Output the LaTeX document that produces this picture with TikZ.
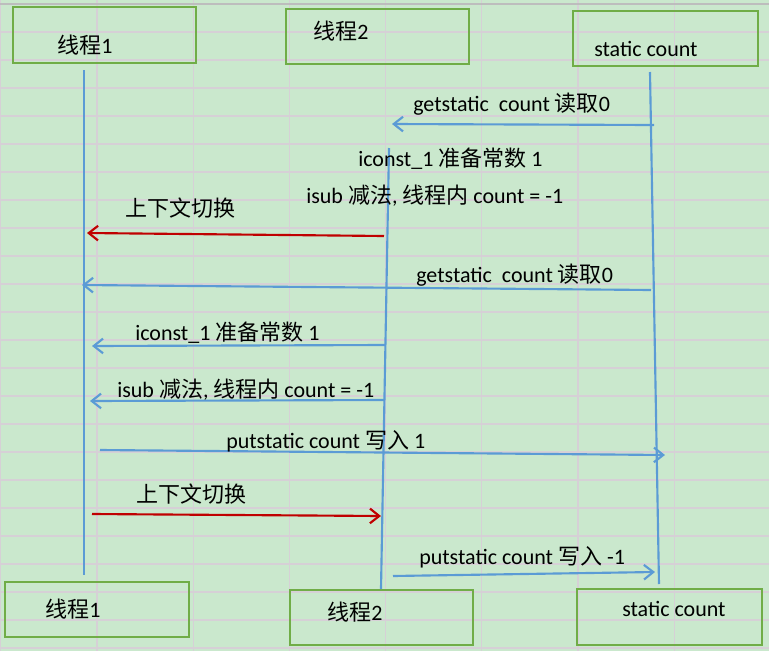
\documentclass[tikz,border=0pt]{standalone}
\usepackage{fontspec}
\setmainfont{Carlito}
\newfontfamily\cjk{Noto Sans CJK SC}
\usetikzlibrary{arrows.meta,fit}
\definecolor{sheet}{HTML}{CAE8CD}
\definecolor{cellline}{HTML}{D6D0D6}
\definecolor{headline}{HTML}{BDBDBD}
\definecolor{boxgreen}{HTML}{70AD47}
\definecolor{lineblue}{HTML}{5B9BD5}
\definecolor{switchred}{HTML}{C00000}
\newcommand{\zh}[1]{{\cjk #1}}

\begin{document}
\begin{tikzpicture}[x=0.75pt,y=-0.75pt,font=\fontsize{16.5}{19}\selectfont,
		box/.style={draw=boxgreen,line width=2.2pt,inner sep=0pt},
		txt/.style={anchor=base west,inner sep=0pt},
		life/.style={draw=lineblue,line width=1.6pt},
		msg/.style={draw=lineblue,line width=1.6pt,-{Straight Barb[length=7pt,width=11pt]}},
		ctxswitch/.style={draw=switchred,line width=1.6pt,-{Straight Barb[length=7pt,width=11pt]}}]
		% sheet background
		\fill[sheet] (0,0) rectangle (769,651);
		\useasboundingbox (0,0) rectangle (769,651);
		\foreach \k in {0,...,7}
			\draw[cellline,line width=0.8pt] ({96.2*\k+0.8},0) -- ({96.2*\k+0.8},651);
		\foreach \k in {1,...,23}
			\draw[cellline,line width=0.8pt] (0,{4+28*\k}) -- (769,{4+28*\k});
		\draw[headline,line width=0.8pt] (0,4) -- (769,4);

		% boxes
		\node[box,fit={(13,7) (196,63)}] (t1top) {};
		\node[box,fit={(286,9) (469,64)}] (t2top) {};
		\node[box,fit={(573,11) (758,66)}] (sctop) {};
		\node[box,fit={(5,582) (189,637)}] (t1bot) {};
		\node[box,fit={(290,590) (473,645)}] (t2bot) {};
		\node[box,fit={(577,589) (762,645)}] (scbot) {};
		\node[txt] (t1toptxt) at (57,53) {\zh{线程}1};
		\node[txt] (t2toptxt) at (313,39) {\zh{线程}2};
		\node[txt] (sctoptxt) at (594,56) {static count};
		\node[txt] (t1bottxt) at (45,617) {\zh{线程}1};
		\node[txt] (t2bottxt) at (327,620) {\zh{线程}2};
		\node[txt] (scbottxt) at (622,616) {static count};

		% lifelines
		\coordinate (t1a) at (84,70);   \coordinate (t1b) at (84,575);
		\coordinate (t2a) at (389,148); \coordinate (t2b) at (381,589);
		\coordinate (sca) at (650,72);  \coordinate (scb) at (659,584);
		\draw[life] (t1a) -- (t1b);
		\draw[life] (t2a) -- (t2b);
		\draw[life] (sca) -- (scb);

		% messages
		\coordinate (m1s) at (654,125); \coordinate (m1e) at (392,124);
		\coordinate (m2s) at (384,236); \coordinate (m2e) at (87,233);
		\coordinate (m3s) at (651,290); \coordinate (m3e) at (82,285);
		\coordinate (m4s) at (385,345); \coordinate (m4e) at (92,346);
		\coordinate (m5s) at (385,400); \coordinate (m5e) at (90,401);
		\coordinate (m6s) at (100,450); \coordinate (m6e) at (665,455);
		\coordinate (m7s) at (92,514);  \coordinate (m7e) at (381,516);
		\coordinate (m8s) at (393,576); \coordinate (m8e) at (655,572);
		\draw[msg] (m1s) -- (m1e);
		\draw[ctxswitch] (m2s) -- (m2e);
		\draw[msg] (m3s) -- (m3e);
		\draw[msg] (m4s) -- (m4e);
		\draw[msg] (m5s) -- (m5e);
		\draw[msg] (m6s) -- (m6e);
		\draw[ctxswitch] (m7s) -- (m7e);
		\draw[msg] (m8s) -- (m8e);

		% labels
		\node[txt] (m1txt) at (413,111) {getstatic\ \ count \zh{读取}0};
		\node[txt] (i1txt) at (358,166) {iconst\_1 \zh{准备常数} 1};
		\node[txt] (s1txt) at (306,203) {isub \zh{减法}, \zh{线程内} count = -1};
		\node[txt] (m2txt) at (125,216) {\zh{上下文切换}};
		\node[txt] (m3txt) at (416,282) {getstatic\ \ count \zh{读取}0};
		\node[txt] (m4txt) at (135,340) {iconst\_1 \zh{准备常数} 1};
		\node[txt] (m5txt) at (117,397) {isub \zh{减法}, \zh{线程内} count = -1};
		\node[txt] (m6txt) at (226,448) {putstatic count \zh{写入} 1};
		\node[txt] (m7txt) at (136,502) {\zh{上下文切换}};
		\node[txt] (m8txt) at (419,564) {putstatic count \zh{写入} -1};
\end{tikzpicture}
\end{document}
